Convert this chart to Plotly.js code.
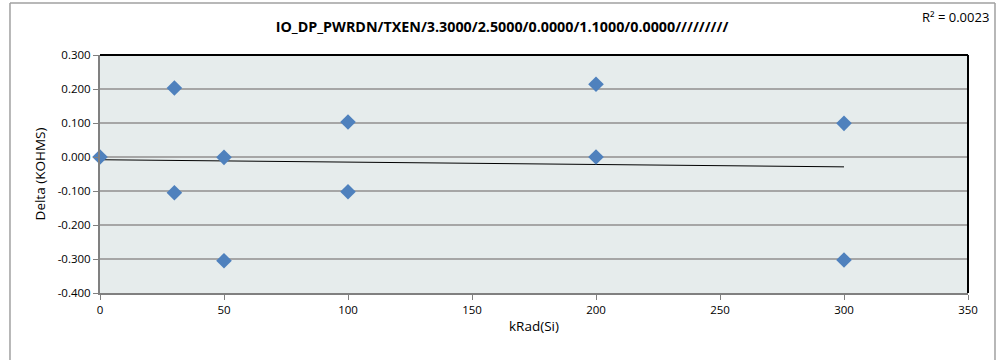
<!DOCTYPE html>
<html>
<head>
<meta charset="utf-8">
<script src="https://cdn.plot.ly/plotly-3.0.1.min.js"></script>
<style>html,body{margin:0;padding:0;background:#fff;}#chart{width:997px;height:360px;}</style>
</head>
<body>
<div id="chart"></div>
<script>
// Data
const doseX = [0, 30, 30, 50, 50, 100, 100, 200, 200, 300, 300];
const deltaY = [0.000, 0.203, -0.105, -0.001, -0.305, 0.103, -0.102, 0.214, 0.000, 0.099, -0.303];
const trendX = [0, 300];
const trendY = [-0.008, -0.029];
const yTickVals = [-0.4, -0.3, -0.2, -0.1, 0, 0.1, 0.2, 0.3];
const yTickText = ["-0.400", "-0.300", "-0.200", "-0.100", "0.000", "0.100", "0.200", "0.300"];
const xTickVals = [0, 50, 100, 150, 200, 250, 300, 350];
const chartTitle = "IO_DP_PWRDN/TXEN/3.3000/2.5000/0.0000/1.1000/0.0000/////////";
const rSquaredText = "R² = 0.0023";

const FONT = "'Open Sans', 'Noto Sans', 'DejaVu Sans', sans-serif";

const traces = [
  {
    x: trendX, y: trendY, type: "scatter", mode: "lines",
    line: {color: "#000000", width: 1}, hoverinfo: "skip", showlegend: false
  },
  {
    x: doseX, y: deltaY, type: "scatter", mode: "markers", cliponaxis: false,
    marker: {symbol: "diamond", size: 12, color: "#4F81BD", line: {width: 0}},
    showlegend: false
  }
];

const layout = {
  width: 997, height: 360,
  margin: {l: 100, r: 29, t: 55, b: 67},
  paper_bgcolor: "#ffffff",
  plot_bgcolor: "#E6ECEC",
  font: {family: FONT, size: 11, color: "#000"},
  title: {
    text: "<b>" + chartTitle + "</b>",
    font: {family: FONT, size: 14.3, color: "#000"},
    x: 0.5035, xref: "container", xanchor: "center", y: 0.925, yref: "container", yanchor: "middle"
  },
  xaxis: {
    range: [0, 350], tickvals: xTickVals, ticktext: xTickVals.map(String),
    showgrid: false, zeroline: false,
    showline: true, linecolor: "#808080", linewidth: 2,
    ticks: "outside", ticklen: 5, tickcolor: "#808080", tickwidth: 1,
    tickfont: {family: FONT, size: 11.5, color: "#000"},
    title: {text: "kRad(Si)", font: {family: FONT, size: 13.5, color: "#000"}, standoff: 6},
    fixedrange: true
  },
  yaxis: {
    range: [-0.4, 0.3], tickvals: yTickVals, ticktext: yTickText,
    showgrid: true, gridcolor: "#A6A6A6", gridwidth: 1.5, zeroline: false,
    showline: true, linecolor: "#808080", linewidth: 2,
    ticks: "outside", ticklen: 5, tickcolor: "#808080", tickwidth: 1,
    tickfont: {family: FONT, size: 11.5, color: "#000"},
    title: {text: "Delta (KOHMS)", font: {family: FONT, size: 13.5, color: "#000"}, standoff: 9},
    fixedrange: true
  },
  shapes: [
    {type: "line", xref: "paper", yref: "paper", x0: 0, x1: 1, y0: 1, y1: 1, line: {color: "#000", width: 2}},
    {type: "line", xref: "paper", yref: "paper", x0: 1, x1: 1, y0: 0, y1: 1, line: {color: "#000", width: 2}},
    {type: "line", xref: "paper", yref: "paper", x0: -0.1037, x1: -0.1037, y0: -0.30, y1: 1.2185, line: {color: "#A0A0A0", width: 1.5}},
    {type: "line", xref: "paper", yref: "paper", x0: -0.1037, x1: 1.0311, y0: 1.2185, y1: 1.2185, line: {color: "#A0A0A0", width: 1.5}},
    {type: "line", xref: "paper", yref: "paper", x0: 1.0311, x1: 1.0311, y0: -0.30, y1: 1.2185, line: {color: "#A0A0A0", width: 1.5}}
  ],
  annotations: [
    {text: rSquaredText, xref: "paper", yref: "paper", x: 1.0265, y: 1.158,
     xanchor: "right", yanchor: "middle", showarrow: false,
     font: {family: FONT, size: 13, color: "#000"}}
  ]
};

Plotly.newPlot("chart", traces, layout, {displayModeBar: false, staticPlot: true});
</script>
</body>
</html>
